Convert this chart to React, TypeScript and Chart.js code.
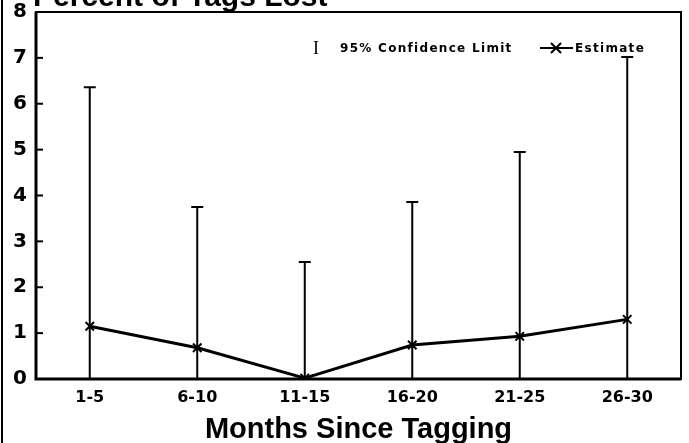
import React, { useEffect, useRef } from "react";
import { Chart, registerables } from "chart.js";

Chart.register(...registerables);

const categories = ["1-5", "6-10", "11-15", "16-20", "21-25", "26-30"];
const estimate = [1.15, 0.68, 0.02, 0.74, 0.93, 1.3];
const upperLimit = [6.36, 3.75, 2.55, 3.86, 4.95, 7.02];
const lowerLimit = [0, 0, 0, 0, 0, 0];
const yTickValues = [0, 1, 2, 3, 4, 5, 6, 7, 8];

const chartTitle = "Percent of Tags Lost";
const xTitle = "Months Since Tagging";
const legendCI = "95% Confidence Limit";
const legendEst = "Estimate";

const decorPlugin = {
  id: "decor",
  afterDatasetsDraw(chart: any) {
    const { ctx, scales } = chart;
    const x = scales.x;
    const y = scales.y;
    ctx.save();
    ctx.strokeStyle = "#000";
    ctx.lineWidth = 2;
    categories.forEach((c, i) => {
      const px = x.getPixelForValue(i);
      const pTop = y.getPixelForValue(upperLimit[i]);
      const pBot = y.getPixelForValue(lowerLimit[i]);
      ctx.beginPath();
      ctx.moveTo(px, pTop);
      ctx.lineTo(px, pBot);
      ctx.moveTo(px - 6, pTop);
      ctx.lineTo(px + 6, pTop);
      ctx.moveTo(px - 6, pBot);
      ctx.lineTo(px + 6, pBot);
      ctx.stroke();
    });
    ctx.restore();
  },
  afterDraw(chart: any) {
    const { ctx, chartArea, scales } = chart;
    const y = scales.y;
    ctx.save();
    ctx.strokeStyle = "#000";
    ctx.fillStyle = "#000";
    // frame
    ctx.lineWidth = 2;
    ctx.strokeRect(chartArea.left, chartArea.top, chartArea.right - chartArea.left, chartArea.bottom - chartArea.top);
    ctx.lineWidth = 3;
    ctx.beginPath();
    ctx.moveTo(chartArea.left, chartArea.top);
    ctx.lineTo(chartArea.left, chartArea.bottom);
    ctx.lineTo(chartArea.right, chartArea.bottom);
    ctx.stroke();
    // y ticks inside
    ctx.lineWidth = 2;
    yTickValues.forEach((v) => {
      const py = y.getPixelForValue(v);
      ctx.beginPath();
      ctx.moveTo(chartArea.left, py);
      ctx.lineTo(chartArea.left + 7, py);
      ctx.stroke();
    });
    // page left line
    ctx.lineWidth = 2;
    ctx.beginPath();
    ctx.moveTo(2, 0);
    ctx.lineTo(2, chart.height);
    ctx.stroke();
    // title (cut at top)
    ctx.font = "bold 30px 'Liberation Sans', Arial, sans-serif";
    ctx.textBaseline = "alphabetic";
    ctx.textAlign = "left";
    ctx.fillText(chartTitle, 33, 6);
    // x-axis title
    ctx.font = "bold 29px 'Liberation Sans', Arial, sans-serif";
    ctx.textAlign = "center";
    ctx.fillText(xTitle, (chartArea.left + chartArea.right) / 2, 438);
    // legend
    ctx.textAlign = "left";
    ctx.font = "18px 'Liberation Serif', serif";
    ctx.textBaseline = "middle";
    ctx.fillText("I", 313, 49);
    ctx.font = "bold 12px 'DejaVu Sans', sans-serif";
    (ctx as any).letterSpacing = "1.3px";
    ctx.fillText(legendCI, 340, 49);
    ctx.fillText(legendEst, 575, 49);
    (ctx as any).letterSpacing = "0px";
    ctx.lineWidth = 2;
    ctx.beginPath();
    ctx.moveTo(540, 48);
    ctx.lineTo(573, 48);
    ctx.moveTo(551, 43);
    ctx.lineTo(561, 53);
    ctx.moveTo(561, 43);
    ctx.lineTo(551, 53);
    ctx.stroke();
    ctx.restore();
  },
};

export default function App() {
  const ref = useRef<HTMLCanvasElement>(null);
  useEffect(() => {
    if (!ref.current) return;
    const chart = new Chart(ref.current, {
      type: "line",
      data: {
        labels: categories,
        datasets: [
          {
            label: legendEst,
            data: estimate,
            borderColor: "#000",
            backgroundColor: "#000",
            borderWidth: 3,
            pointStyle: "crossRot",
            pointRadius: 6,
            pointBorderWidth: 2,
            tension: 0,
          },
        ],
      },
      options: {
        responsive: false,
        animation: false,
        layout: { padding: { top: 12, right: 3, left: 0, bottom: 0 } },
        plugins: { legend: { display: false }, tooltip: { enabled: false } },
        scales: {
          x: {
            type: "category",
            offset: true,
            grid: { display: false, drawTicks: false },
            border: { display: false },
            ticks: {
              color: "#000",
              font: { family: "'DejaVu Sans', sans-serif", weight: "bold", size: 16 },
              padding: 9,
              maxRotation: 0,
            },
            afterFit: (s: any) => {
              s.height = 64;
              s.paddingLeft = 0;
              s.paddingRight = 0;
            },
          },
          y: {
            min: 0,
            max: 8,
            afterBuildTicks: (s: any) => {
              s.ticks = yTickValues.map((v) => ({ value: v }));
            },
            grid: { display: false, drawTicks: false },
            border: { display: false },
            ticks: {
              color: "#000",
              font: { family: "'DejaVu Sans', sans-serif", weight: "bold", size: 20 },
              padding: 9,
            },
            afterFit: (s: any) => {
              s.width = 36;
              s.paddingTop = 0;
              s.paddingBottom = 0;
            },
          },
        },
      },
      plugins: [decorPlugin],
    });
    return () => chart.destroy();
  }, []);
  return (
    <div style={{ position: "fixed", left: 0, top: 0, width: 689, height: 443, background: "#fff" }}>
      <canvas ref={ref} width={689} height={443} />
    </div>
  );
}
